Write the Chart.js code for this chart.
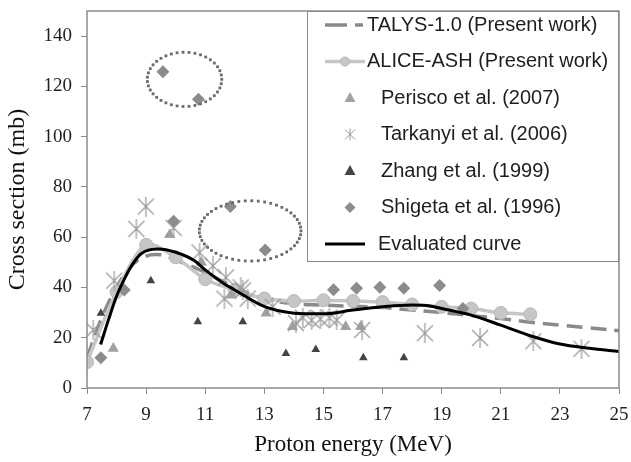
<!DOCTYPE html>
<html>
<head>
<meta charset="utf-8">
<script src="https://cdn.jsdelivr.net/npm/chart.js@4/dist/chart.umd.min.js"></script>
<style>
  body { margin: 0; background: #fff; }
  #wrap { width: 631px; height: 462px; }
</style>
</head>
<body>
<div id="wrap"><canvas id="chart" width="631" height="462"></canvas></div>
<script>
// ---- data ----
const xTicks = [7, 9, 11, 13, 15, 17, 19, 21, 23, 25];
const yTicks = [0, 20, 40, 60, 80, 100, 120, 140];

const talysE = [7, 7.5, 8, 8.5, 9, 9.5, 10, 11, 12, 13, 14, 15, 16, 17, 18, 19, 20, 21, 22, 23, 24, 25];
const talysXS = [12, 28, 40, 48.5, 52.5, 53, 51, 46, 40, 35.5, 33.5, 33, 32.5, 32, 31, 30, 28.8, 27.6, 26.2, 25, 23.9, 22.8];

const aliceE = [7, 8, 9, 10, 11, 12, 13, 14, 15, 16, 17, 18, 19, 20, 21, 22];
const aliceXS = [10.3, 38.2, 57, 52, 43.3, 39, 35.6, 34.6, 34.9, 34.6, 34.2, 33.2, 32.3, 31.6, 29.9, 29.3];

const periscoE = [7.89, 9.8, 10.87, 11.88, 13.06, 13.95, 15.75, 16.26];
const periscoXS = [15.7, 61, 49.9, 36.9, 29.7, 24.4, 24.4, 24.4];

const tarkanyiE = [7.21, 7.92, 8.67, 8.99, 9.93, 10.81, 11.26, 11.65, 11.7, 12.2, 12.27, 12.44, 13.28, 14.07, 14.3, 14.6, 14.9, 15.2, 15.45, 16.31, 18.43, 20.3, 22.1, 23.73];
const tarkanyiXS = [23.1, 42.7, 63.3, 72.2, 63.7, 53.9, 48.6, 35.6, 44, 40, 38.8, 35.6, 32.3, 25.8, 28, 27, 27.5, 28, 27, 23.1, 21.8, 19.9, 18.6, 15.6];

const zhangE = [7.47, 9.16, 10.75, 12.27, 13.73, 14.74, 16.35, 17.72];
const zhangXS = [29.7, 42.7, 26.4, 26.4, 13.7, 15.3, 12, 12];

const shigetaE = [7.47, 8.26, 9.57, 9.93, 10.77, 11.85, 13.03, 15.34, 16.12, 16.91, 17.72, 18.93, 19.72];
const shigetaXS = [12, 39, 125.8, 66.3, 114.9, 72.2, 54.9, 39.1, 39.7, 40.1, 39.7, 40.8, 31.6];

const evalE = [7.46, 7.75, 8, 8.25, 8.5, 8.84, 9.4, 10, 10.64, 11, 11.65, 12, 12.89, 13.67, 14.35, 15, 16, 17, 18, 18.5, 19, 20, 21, 22, 23, 24, 25];
const evalXS = [17.3, 28, 36.5, 43, 48.5, 53.5, 55.3, 54, 50.6, 47, 41.4, 39, 33, 30.3, 29.5, 29.5, 31, 32.3, 33, 32.8, 31.6, 29, 25, 20.8, 17.5, 15.8, 14.5];

const seriesNames = ['TALYS-1.0 (Present work)', 'ALICE-ASH (Present work)', 'Perisco et al. (2007)',
  'Tarkanyi et al. (2006)', 'Zhang et al. (1999)', 'Shigeta et al. (1996)', 'Evaluated curve'];

// dotted circles around outlying points: centre E, centre XS, half-width E, half-height XS
const ringE = [10.3, 12.52];
const ringXS = [122.8, 62.5];
const ringHalfE = [1.26, 1.72];
const ringHalfXS = [10.8, 12];

const pts = (xs, ys) => xs.map((x, i) => ({ x: x, y: ys[i] }));

// asterisk marker (X with a vertical stroke)
function starMarker() {
  const c = document.createElement('canvas');
  c.width = 20; c.height = 20;
  const g = c.getContext('2d');
  g.strokeStyle = '#9a9a9a';
  g.lineWidth = 1.2;
  g.beginPath();
  g.moveTo(2, 2); g.lineTo(18, 18);
  g.moveTo(18, 2); g.lineTo(2, 18);
  g.moveTo(10, 0); g.lineTo(10, 20);
  g.stroke();
  return c;
}
const star = starMarker();

const ringPlugin = {
  id: 'rings',
  afterDatasetsDraw(chart) {
    const { ctx, scales: { x, y } } = chart;
    ctx.save();
    ctx.fillStyle = '#6a6a6a';
    ringE.forEach((e, i) => {
      const cx = x.getPixelForValue(e), cy = y.getPixelForValue(ringXS[i]);
      const rx = x.getPixelForValue(e + ringHalfE[i]) - cx;
      const ry = cy - y.getPixelForValue(ringXS[i] + ringHalfXS[i]);
      const n = Math.round(Math.PI * (rx + ry) / 5.2);
      for (let k = 0; k < n; k++) {
        const a = k / n * Math.PI * 2;
        ctx.fillRect(cx + rx * Math.cos(a) - 1.4, cy + ry * Math.sin(a) - 1.4, 2.8, 2.8);
      }
    });
    ctx.restore();
  }
};

const framePlugin = {
  id: 'frame',
  afterDraw(chart) {
    const { ctx, chartArea: a } = chart;
    ctx.save();
    ctx.strokeStyle = '#8a8a8a';
    ctx.lineWidth = 1.5;
    ctx.strokeRect(a.left, a.top, a.right - a.left, a.bottom - a.top);

    // legend box
    const bx = a.left + 220, by = a.top, bw = a.right - 1 - bx, bh = 250;
    ctx.fillStyle = '#fff';
    ctx.fillRect(bx, by, bw, bh);
    ctx.lineWidth = 1;
    ctx.strokeStyle = '#8a8a8a';
    ctx.strokeRect(bx + 0.5, by + 0.5, bw, bh);

    ctx.font = '20px "Liberation Sans", Arial, sans-serif';
    ctx.textBaseline = 'middle';
    ctx.fillStyle = '#1e1e1e';
    const mx = bx + 43;
    seriesNames.forEach((name, i) => {
      const ly = by + 14 + i * 36.5;
      const tx = (i < 2) ? bx + 60 : (i === 6 ? bx + 71 : bx + 74);
      ctx.save();
      if (i === 0) {
        ctx.strokeStyle = '#8a8a8a'; ctx.lineWidth = 3.5;
        ctx.beginPath(); ctx.moveTo(bx + 18, ly); ctx.lineTo(bx + 40, ly);
        ctx.moveTo(bx + 48, ly); ctx.lineTo(bx + 56, ly); ctx.stroke();
      } else if (i === 1) {
        ctx.strokeStyle = '#c6c6c6'; ctx.lineWidth = 3.5;
        ctx.beginPath(); ctx.moveTo(bx + 18, ly); ctx.lineTo(bx + 58, ly); ctx.stroke();
        ctx.fillStyle = '#c6c6c6'; ctx.strokeStyle = '#b4b4b4'; ctx.lineWidth = 1;
        ctx.beginPath(); ctx.arc(mx - 5, ly, 4.5, 0, Math.PI * 2); ctx.fill(); ctx.stroke();
      } else if (i === 2 || i === 4) {
        ctx.fillStyle = i === 2 ? '#a2a2a2' : '#444';
        ctx.beginPath(); ctx.moveTo(mx, ly - 6); ctx.lineTo(mx + 5.5, ly + 4); ctx.lineTo(mx - 5.5, ly + 4);
        ctx.closePath(); ctx.fill();
      } else if (i === 3) {
        ctx.strokeStyle = '#9a9a9a'; ctx.lineWidth = 1;
        ctx.beginPath();
        ctx.moveTo(mx - 5, ly - 5); ctx.lineTo(mx + 5, ly + 5);
        ctx.moveTo(mx + 5, ly - 5); ctx.lineTo(mx - 5, ly + 5);
        ctx.moveTo(mx, ly - 6); ctx.lineTo(mx, ly + 6); ctx.stroke();
      } else if (i === 5) {
        ctx.fillStyle = '#8c8c8c';
        ctx.beginPath(); ctx.moveTo(mx, ly - 5.5); ctx.lineTo(mx + 5.5, ly); ctx.lineTo(mx, ly + 5.5); ctx.lineTo(mx - 5.5, ly);
        ctx.closePath(); ctx.fill();
      } else {
        ctx.strokeStyle = '#000'; ctx.lineWidth = 3;
        ctx.beginPath(); ctx.moveTo(bx + 18, ly); ctx.lineTo(bx + 58, ly); ctx.stroke();
      }
      ctx.restore();
      ctx.fillText(name, tx, ly);
    });
    ctx.restore();
  }
};

const serif = '"Liberation Serif", "Times New Roman", serif';

new Chart(document.getElementById('chart'), {
  type: 'scatter',
  data: {
    datasets: [
      {
        label: seriesNames[6], data: pts(evalE, evalXS), showLine: true, order: 1,
        borderColor: '#000', borderWidth: 3, pointRadius: 0, cubicInterpolationMode: 'monotone'
      },
      {
        label: seriesNames[5], data: pts(shigetaE, shigetaXS), order: 2,
        pointStyle: 'rectRot', pointRadius: 6.5, backgroundColor: '#8c8c8c', borderColor: '#8c8c8c', borderWidth: 0
      },
      {
        label: seriesNames[4], data: pts(zhangE, zhangXS), order: 3,
        pointStyle: 'triangle', pointRadius: 5, backgroundColor: '#444', borderColor: '#444', borderWidth: 0
      },
      {
        label: seriesNames[3], data: pts(tarkanyiE, tarkanyiXS), order: 4,
        pointStyle: star, pointRadius: 10
      },
      {
        label: seriesNames[2], data: pts(periscoE, periscoXS), order: 5,
        pointStyle: 'triangle', pointRadius: 6.5, backgroundColor: '#a2a2a2', borderColor: '#a2a2a2', borderWidth: 0
      },
      {
        label: seriesNames[1], data: pts(aliceE, aliceXS), showLine: true, order: 6,
        borderColor: '#c6c6c6', borderWidth: 3.5, tension: 0.3,
        pointRadius: 6.5, pointBackgroundColor: '#c6c6c6', pointBorderColor: '#b8b8b8', pointBorderWidth: 1
      },
      {
        label: seriesNames[0], data: pts(talysE, talysXS), showLine: true, order: 7,
        borderColor: '#8a8a8a', borderWidth: 3.5, borderDash: [16, 8], pointRadius: 0, tension: 0.4
      }
    ]
  },
  options: {
    responsive: false,
    devicePixelRatio: 1,
    animation: false,
    layout: { padding: { top: 7, right: 12, left: 0, bottom: 0 } },
    plugins: { legend: { display: false }, tooltip: { enabled: false } },
    scales: {
      x: {
        type: 'linear', min: 7, max: 25,
        afterBuildTicks: s => { s.ticks = xTicks.map(v => ({ value: v })); },
        afterFit: s => { s.height = 74; s.paddingLeft = 0; s.paddingRight = 0; },
        ticks: { font: { family: serif, size: 19 }, color: '#1e1e1e', padding: 10, maxRotation: 0 },
        grid: { drawOnChartArea: false, tickLength: 6, color: '#8a8a8a' },
        border: { display: false },
        title: { display: true, text: 'Proton energy (MeV)', font: { family: serif, size: 23 }, color: '#111', padding: { top: 0, bottom: 3 } }
      },
      y: {
        min: 0, max: 150,
        afterBuildTicks: s => { s.ticks = yTicks.map(v => ({ value: v })); },
        afterFit: s => { s.width = 87; s.paddingTop = 0; s.paddingBottom = 0; },
        ticks: { font: { family: serif, size: 19 }, color: '#1e1e1e', padding: 9 },
        grid: { drawOnChartArea: false, tickLength: 6, color: '#8a8a8a' },
        border: { display: false },
        title: { display: true, text: 'Cross section (mb)', font: { family: serif, size: 24 }, color: '#111', padding: { top: 3, bottom: 0 } }
      }
    }
  },
  plugins: [ringPlugin, framePlugin]
});
</script>
</body>
</html>
